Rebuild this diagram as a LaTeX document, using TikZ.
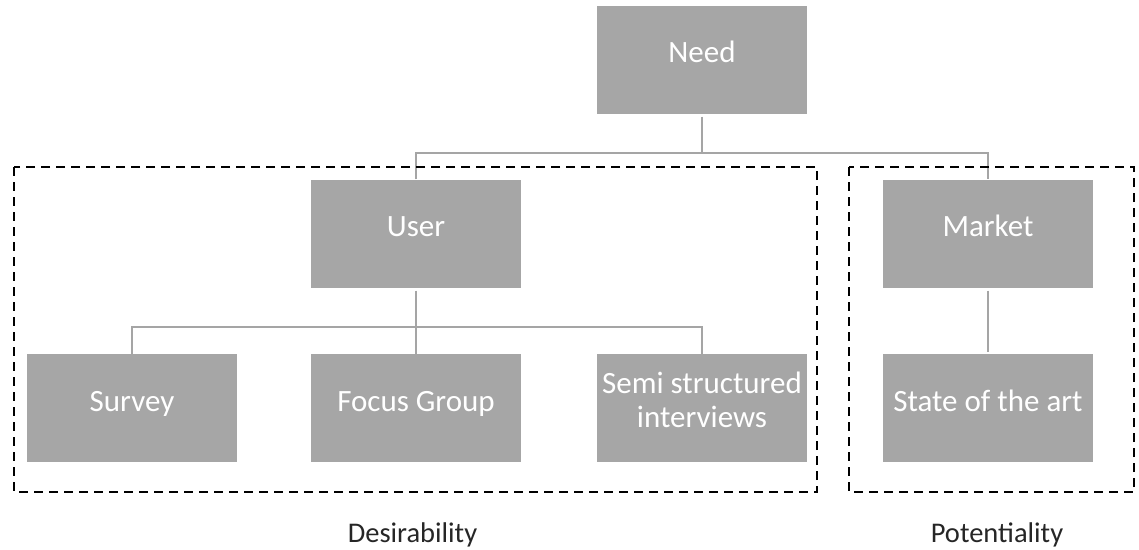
\documentclass[tikz,border=0pt]{standalone}
\usepackage{fontspec}
\setmainfont{Carlito}
\usepackage{tikz}
\definecolor{boxgray}{HTML}{A6A6A6}
\definecolor{linegray}{HTML}{A5A5A5}
\tikzstyle{box} = [rectangle, fill=boxgray, text=white, minimum width=210pt, minimum height=108pt, inner sep=0pt, font=\fontsize{31}{34}\selectfont, text height=20pt, text depth=14pt]
\tikzstyle{conn} = [linegray, line width=2pt]
\tikzstyle{group} = [black, line width=2pt, dash pattern=on 9pt off 6pt]
\tikzstyle{caption} = [font=\fontsize{28.5}{34}\selectfont, anchor=base, text=black!85]

\begin{document}
\begin{tikzpicture}[x=1pt, y=-1pt]
        \useasboundingbox (0,0) rectangle (1139,549);
        \node[box] (need) at (702,59.5) {Need};
        \node[box] (user) at (416,233.5) {User};
        \node[box] (market) at (988,233.5) {Market};
        \node[box] (survey) at (132,408) {Survey};
        \node[box] (focus) at (416,408) {Focus Group};
        \node[box, align=center, text height=54pt, text depth=16pt] (semi) at (702,408) {Semi structured\\interviews};
        \node[box] (sota) at (988,408) {State of the art};

        % Connectors - gray
        \coordinate (needbus) at (702,153);
        \coordinate (userbus) at (416,327);
        \draw[conn] ([yshift=-3pt]need.south) -- (needbus);
        \draw[conn] (user.north) |- (needbus) -| (market.north);
        \draw[conn] ([yshift=-3pt]user.south) -- (userbus);
        \draw[conn] (survey.north) |- (userbus) -| (semi.north);
        \draw[conn] (userbus) -- (focus.north);
        \draw[conn] ([yshift=-3pt]market.south) -- ([yshift=2pt]sota.north);

        % Groups - dashed
        \draw[group] (14,167) rectangle (817,492);
        \draw[group] (849,167) rectangle (1134,492);
        \node[caption] (desir) at (412.5,542) {Desirability};
        \node[caption] (potent) at (997,542) {Potentiality};
\end{tikzpicture}
\end{document}
